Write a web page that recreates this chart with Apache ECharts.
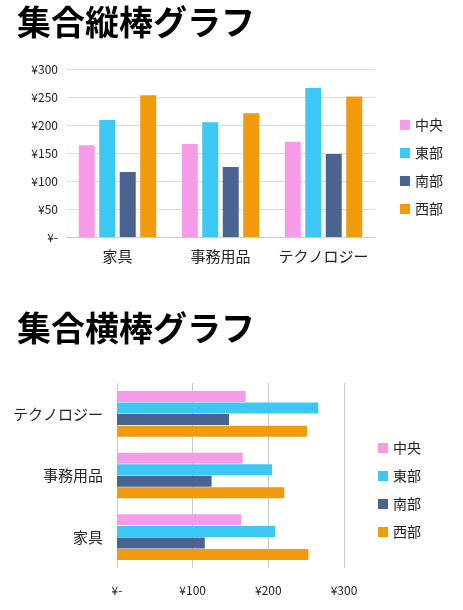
<!DOCTYPE html>
<html><head><meta charset="utf-8">
<script src="https://cdn.jsdelivr.net/npm/echarts@6/dist/echarts.min.js"></script>
<style>html,body{margin:0;padding:0;background:#fff}#c{width:463px;height:610px}</style>
</head><body><div id="c"></div>
<script>
const categories = ['家具','事務用品','テクノロジー'];
const seriesNames = ['中央','東部','南部','西部'];
const colors = ['#f59be8','#3cc8f4','#4a6391','#f09a0c'];
const central = [164,166,170];
const east = [209,205,266];
const south = [116,125,148];
const west = [253,221,251];
const values = [central, east, south, west];
const yen = v => v === 0 ? '¥-' : '¥' + v;
const font = '"Noto Sans CJK JP", "Noto Sans", sans-serif';
const hCats = categories.slice().reverse();
const series = [];
seriesNames.forEach((n,i)=>{
  series.push({name:n,type:'bar',xAxisIndex:0,yAxisIndex:0,data:values[i],itemStyle:{color:colors[i]},barWidth:16,barGap:'28%'});
  series.push({name:n,type:'bar',xAxisIndex:1,yAxisIndex:1,data:values[i].slice().reverse(),itemStyle:{color:colors[i]},barWidth:11,barGap:'5%'});
});
const chart = echarts.init(document.getElementById('c'));
chart.setOption({
  animation:false,
  textStyle:{fontFamily:font},
  title:[
    {text:'集合縦棒グラフ',left:12,top:0,textStyle:{fontSize:34,fontWeight:'bold',color:'#000',fontFamily:font}},
    {text:'集合横棒グラフ',left:12,top:306,textStyle:{fontSize:34,fontWeight:'bold',color:'#000',fontFamily:font}}
  ],
  legend:[
    {data:seriesNames,orient:'vertical',left:395,top:113,itemWidth:10,itemHeight:10,itemGap:14,icon:'rect',textStyle:{fontSize:14,color:'#222'}},
    {data:seriesNames,orient:'vertical',left:373,top:436,itemWidth:10,itemHeight:10,itemGap:14,icon:'rect',textStyle:{fontSize:14,color:'#222'}}
  ],
  grid:[
    {left:66,right:88,top:69,height:168},
    {left:117,right:119,top:383,height:185}
  ],
  xAxis:[
    {gridIndex:0,type:'category',data:categories,axisTick:{show:false},axisLine:{lineStyle:{color:'#ccc'}},axisLabel:{interval:0,fontSize:15,color:'#222',margin:12}},
    {gridIndex:1,type:'value',min:0,max:300,interval:100,axisLabel:{formatter:yen,fontSize:12,color:'#222',margin:16},splitLine:{lineStyle:{color:'#ccc'}}}
  ],
  yAxis:[
    {gridIndex:0,type:'value',min:0,max:300,interval:50,axisLabel:{formatter:yen,fontSize:12,color:'#222'},splitLine:{lineStyle:{color:'#ddd'}}},
    {gridIndex:1,type:'category',data:hCats,inverse:true,axisTick:{show:false},axisLine:{show:false},axisLabel:{interval:0,fontSize:15,color:'#222',margin:14}}
  ],
  series:series
});
</script></body></html>
